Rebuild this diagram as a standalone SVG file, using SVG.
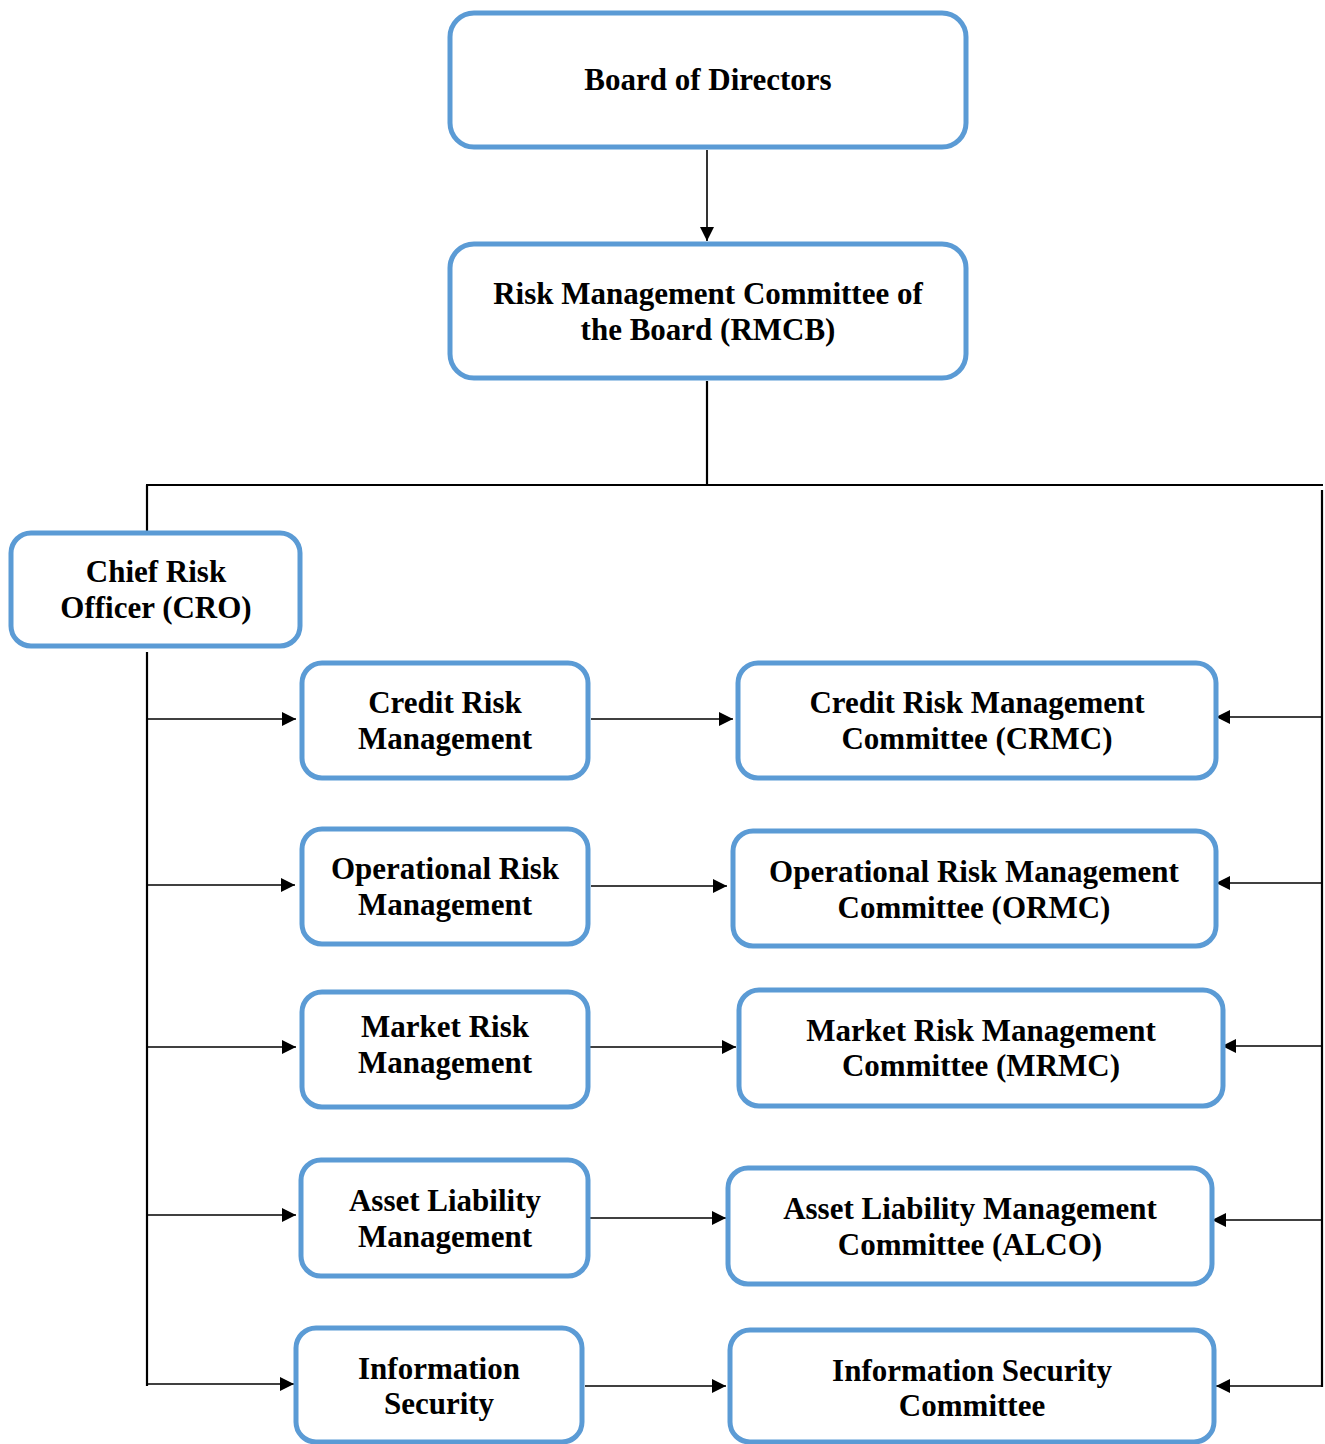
<svg xmlns="http://www.w3.org/2000/svg" width="1325" height="1444" viewBox="0 0 1325 1444">
<style>
.box{fill:#fff;stroke:#5B9BD5;stroke-width:5}
.t{font-family:"Liberation Serif",serif;font-weight:bold;font-size:31px;fill:#000;text-anchor:middle}
.ln{stroke:#000;stroke-width:2.2;fill:none}
.ar{stroke:#000;stroke-width:1.6;fill:none;marker-end:url(#ah)}
</style>
<defs>
<marker id="ah" viewBox="0 0 10 10" refX="10" refY="5" markerUnits="userSpaceOnUse" markerWidth="15" markerHeight="14" orient="auto">
<path d="M0,0 L10,5 L0,10 Z" fill="#000"/>
</marker>
</defs>
<rect width="1325" height="1444" fill="#fff"/>
<g id="connectors">
<line class="ar" x1="707" y1="150" x2="707" y2="241"/>
<line class="ln" x1="707" y1="381" x2="707" y2="485"/>
<line class="ln" x1="146" y1="485" x2="1323" y2="485"/>
<line class="ln" x1="147" y1="485" x2="147" y2="532"/>
<line class="ln" x1="147" y1="652" x2="147" y2="1386"/>
<line class="ln" x1="1322" y1="490" x2="1322" y2="1387"/>
<line class="ar" x1="147" y1="719" x2="296" y2="719"/>
<line class="ar" x1="147" y1="885" x2="295" y2="885"/>
<line class="ar" x1="147" y1="1047" x2="296" y2="1047"/>
<line class="ar" x1="147" y1="1215" x2="296" y2="1215"/>
<line class="ar" x1="147" y1="1384" x2="294" y2="1384"/>
<line class="ar" x1="591" y1="719" x2="733" y2="719"/>
<line class="ar" x1="591" y1="886" x2="727" y2="886"/>
<line class="ar" x1="590" y1="1047" x2="736" y2="1047"/>
<line class="ar" x1="590" y1="1218" x2="726" y2="1218"/>
<line class="ar" x1="585" y1="1386" x2="726" y2="1386"/>
<line class="ar" x1="1322" y1="717" x2="1216" y2="717"/>
<line class="ar" x1="1322" y1="883" x2="1216" y2="883"/>
<line class="ar" x1="1322" y1="1046" x2="1222" y2="1046"/>
<line class="ar" x1="1322" y1="1220" x2="1212" y2="1220"/>
<line class="ar" x1="1322" y1="1386" x2="1216" y2="1386"/>
</g>
<g id="board"><rect class="box" x="450" y="13" width="516" height="134" rx="24"/><text class="t" x="708" y="90">Board of Directors</text></g>
<g id="rmcb"><rect class="box" x="450" y="244" width="516" height="134" rx="24"/><text class="t" x="708" y="304">Risk Management Committee of</text><text class="t" x="708" y="340">the Board (RMCB)</text></g>
<g id="cro"><rect class="box" x="11" y="533" width="289" height="113" rx="20"/><text class="t" x="156" y="582">Chief Risk</text><text class="t" x="156" y="618">Officer (CRO)</text></g>
<g id="crm"><rect class="box" x="302" y="663" width="286" height="115" rx="20"/><text class="t" x="445" y="713">Credit Risk</text><text class="t" x="445" y="749">Management</text></g>
<g id="orm"><rect class="box" x="302" y="829" width="286" height="115" rx="20"/><text class="t" x="445" y="879">Operational Risk</text><text class="t" x="445" y="915">Management</text></g>
<g id="mrm"><rect class="box" x="302" y="992" width="286" height="115" rx="20"/><text class="t" x="445" y="1037">Market Risk</text><text class="t" x="445" y="1073">Management</text></g>
<g id="alm"><rect class="box" x="301" y="1160" width="287" height="116" rx="20"/><text class="t" x="445" y="1211">Asset Liability</text><text class="t" x="445" y="1247">Management</text></g>
<g id="is"><rect class="box" x="296" y="1328" width="286" height="114" rx="20"/><text class="t" x="439" y="1379">Information</text><text class="t" x="439" y="1414">Security</text></g>
<g id="crmc"><rect class="box" x="738" y="663" width="478" height="115" rx="20"/><text class="t" x="977" y="713">Credit Risk Management</text><text class="t" x="977" y="749">Committee (CRMC)</text></g>
<g id="ormc"><rect class="box" x="733" y="831" width="483" height="115" rx="20"/><text class="t" x="974" y="882">Operational Risk Management</text><text class="t" x="974" y="918">Committee (ORMC)</text></g>
<g id="mrmc"><rect class="box" x="739" y="990" width="484" height="116" rx="20"/><text class="t" x="981" y="1041">Market Risk Management</text><text class="t" x="981" y="1076">Committee (MRMC)</text></g>
<g id="alco"><rect class="box" x="728" y="1168" width="484" height="116" rx="20"/><text class="t" x="970" y="1219">Asset Liability Management</text><text class="t" x="970" y="1255">Committee (ALCO)</text></g>
<g id="isc"><rect class="box" x="730" y="1330" width="484" height="112" rx="20"/><text class="t" x="972" y="1381">Information Security</text><text class="t" x="972" y="1416">Committee</text></g>
</svg>
